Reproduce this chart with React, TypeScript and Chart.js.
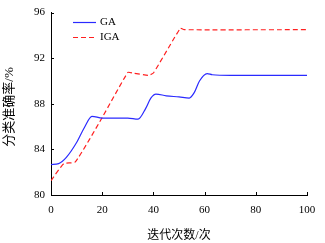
import React, { useEffect, useRef } from "react";
import { Chart, registerables } from "chart.js";

Chart.register(...registerables);

const gaX = [0, 3, 6, 10, 13, 16, 20, 25, 30, 34, 37, 39, 41, 45, 50, 54, 56, 58, 61, 63, 70, 80, 90, 100];
const gaY = [82.67, 82.75, 83.3, 84.6, 85.9, 86.9, 86.75, 86.75, 86.75, 86.65, 87.6, 88.5, 88.85, 88.7, 88.6, 88.5, 89.0, 90.0, 90.65, 90.55, 90.5, 90.5, 90.5, 90.5];
const igaX = [0, 5, 9.5, 20, 30, 32, 38, 40, 50.5, 52, 100];
const igaY = [81.26, 82.75, 82.9, 86.8, 90.75, 90.7, 90.5, 90.7, 94.62, 94.5, 94.5];
const xTicks = [0, 20, 40, 60, 80, 100];
const yTicks = [80, 84, 88, 92, 96];
const seriesLabels = ["GA", "IGA"];
const xTitle = "迭代次数/次";
const yTitle = "分类准确率/%";

const FONT = "'Liberation Serif', 'Noto Sans CJK SC', serif";

const decorPlugin = {
  id: "decor",
  afterDraw(chart: any) {
    const ctx = chart.ctx;
    const xs = chart.scales.x;
    const ys = chart.scales.y;
    const area = chart.chartArea;
    ctx.save();
    ctx.strokeStyle = "#000";
    ctx.lineWidth = 1;
    ctx.setLineDash([]);
    // inward ticks
    xTicks.forEach((v) => {
      const px = Math.round(xs.getPixelForValue(v)) + 0.5;
      ctx.beginPath();
      ctx.moveTo(px, area.bottom);
      ctx.lineTo(px, area.bottom - 3);
      ctx.stroke();
    });
    yTicks.forEach((v) => {
      const py = Math.round(ys.getPixelForValue(v)) + 0.5;
      ctx.beginPath();
      ctx.moveTo(area.left, py);
      ctx.lineTo(area.left + 3, py);
      ctx.stroke();
    });
    // y title
    ctx.save();
    ctx.translate(10, 107);
    ctx.rotate(-Math.PI / 2);
    ctx.fillStyle = "#000";
    ctx.font = "13px " + FONT;
    ctx.textAlign = "center";
    ctx.textBaseline = "middle";
    ctx.fillText(yTitle, 0, 0);
    ctx.restore();
    // legend
    const items = chart.data.datasets;
    const ys0 = [22, 37];
    items.forEach((ds: any, i: number) => {
      const y = ys0[i] + 0.5;
      ctx.strokeStyle = ds.borderColor;
      ctx.lineWidth = ds.borderWidth;
      ctx.setLineDash(ds.borderDash || []);
      ctx.beginPath();
      ctx.moveTo(73, y);
      ctx.lineTo(96, y);
      ctx.stroke();
      ctx.setLineDash([]);
      ctx.fillStyle = "#000";
      ctx.font = "11px " + FONT;
      ctx.textBaseline = "middle";
      ctx.textAlign = "left";
      ctx.fillText(ds.label, 100, y);
    });
    ctx.restore();
  },
};

export default function App() {
  const ref = useRef<HTMLCanvasElement>(null);
  useEffect(() => {
    if (!ref.current) return;
    const chart = new Chart(ref.current, {
      type: "line",
      data: {
        datasets: [
          {
            label: seriesLabels[0],
            data: gaX.map((x, i) => ({ x, y: gaY[i] })),
            borderColor: "#2a2aff",
            borderWidth: 1.2,
            pointRadius: 0,
            cubicInterpolationMode: "monotone",
            fill: false,
          },
          {
            label: seriesLabels[1],
            data: igaX.map((x, i) => ({ x, y: igaY[i] })),
            borderColor: "#ff2020",
            borderWidth: 1.2,
            borderDash: [5, 3],
            pointRadius: 0,
            tension: 0.15,
            fill: false,
          },
        ],
      },
      options: {
        animation: false,
        responsive: false,
        maintainAspectRatio: false,
        layout: { padding: { top: 9, right: 18, left: 0, bottom: 0 } },
        plugins: {
          legend: { display: false },
          tooltip: { enabled: false },
        },
        scales: {
          x: {
            type: "linear",
            min: 0,
            max: 100,
            afterBuildTicks: (s: any) => {
              s.ticks = xTicks.map((v) => ({ value: v }));
            },
            afterFit: (s: any) => {
              s.height = 48;
            },
            grid: { display: false, drawTicks: false },
            border: { display: true, color: "#000", width: 1 },
            ticks: {
              color: "#000",
              padding: 9,
              maxRotation: 0,
              font: { family: FONT, size: 11 },
            },
            title: {
              display: true,
              text: xTitle,
              color: "#000",
              font: { family: FONT, size: 12 },
              padding: { top: 7, bottom: 0 },
            },
          },
          y: {
            type: "linear",
            min: 80,
            max: 96,
            afterBuildTicks: (s: any) => {
              s.ticks = yTicks.map((v) => ({ value: v }));
            },
            afterFit: (s: any) => {
              s.width = 51;
            },
            grid: { display: false, drawTicks: false },
            border: { display: true, color: "#000", width: 1 },
            ticks: {
              color: "#000",
              padding: 6,
              font: { family: FONT, size: 11 },
            },
            title: { display: false },
          },
        },
      },
      plugins: [decorPlugin],
    } as any);
    return () => chart.destroy();
  }, []);
  return (
    <div style={{ position: "fixed", left: 0, top: 0, width: 325, height: 243, background: "#fff" }}>
      <canvas ref={ref} width={325} height={243} style={{ width: 325, height: 243 }} />
    </div>
  );
}
